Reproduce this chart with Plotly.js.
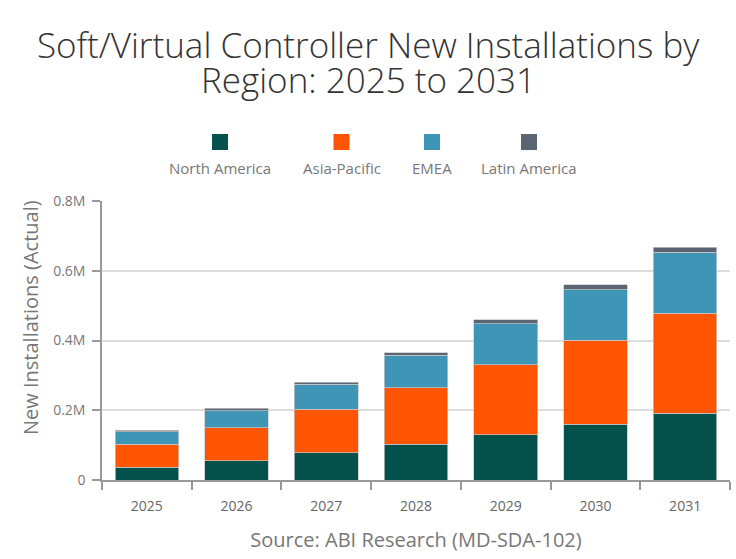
<!DOCTYPE html>
<html>
<head>
<meta charset="utf-8">
<script src="https://cdn.plot.ly/plotly-3.0.1.min.js"></script>
<style>
  html, body { margin: 0; padding: 0; background: #ffffff; }
  #chart { width: 736px; height: 559px; }
</style>
</head>
<body>
<div id="chart"></div>
<script>
// Annual new installations by region (units)
const years = ['2025', '2026', '2027', '2028', '2029', '2030', '2031'];
const northAmerica = [36000, 55000, 78000, 102000, 130000, 160000, 191000];
const asiaPacific  = [66000, 95000, 125000, 163000, 201000, 241000, 287000];
const emea         = [37000, 49000, 71000, 93000, 117000, 144000, 175000];
const latinAmerica = [3000, 7000, 6500, 7000, 11000, 15000, 15000];

const seriesNames  = ['North America', 'Asia-Pacific', 'EMEA', 'Latin America'];
const seriesColors = ['#04504b', '#fe5502', '#3f95b5', '#5a6472'];
const seriesValues = [northAmerica, asiaPacific, emea, latinAmerica];

const yTickValues = [0, 200000, 400000, 600000, 800000];
const yTickLabels = ['0', '0.2M', '0.4M', '0.6M', '0.8M'];

const titleLines = ['Soft/Virtual Controller New Installations by', 'Region: 2025 to 2031'];
const yTitle = 'New Installations (Actual)';
const xTitle = 'Source: ABI Research (MD-SDA-102)';

// plot area in pixels, used to place paper-referenced decorations
const M = { l: 102, r: 6, t: 201, b: 79 };
const W = 736, H = 559;
const PW = W - M.l - M.r, PH = H - M.t - M.b;
const px = x => (x - M.l) / PW;
const py = y => (H - M.b - y) / PH;

const traces = seriesValues.map((vals, i) => ({
  type: 'bar',
  name: seriesNames[i],
  x: years,
  y: vals,
  marker: {
    color: seriesColors[i],
    line: { color: 'rgba(200,200,200,0.9)', width: 0.8 }
  },
  showlegend: false,
  hovertemplate: '%{x}: %{y:,}<extra>' + seriesNames[i] + '</extra>'
}));

const shapes = [];
const annotations = [];

// title, two centred lines
titleLines.forEach((line, i) => {
  annotations.push({
    xref: 'paper', yref: 'paper',
    x: px(W / 2), y: py(61 + i * 34.5),
    xanchor: 'center', yanchor: 'bottom', yshift: -9,
    showarrow: false, text: line,
    font: { family: 'Open Sans, Noto Sans, sans-serif', size: 35, color: '#333333', weight: 300 }
  });
});

// rotated y-axis title
annotations.push({
  xref: 'paper', yref: 'paper',
  x: px(30), y: py(318),
  xanchor: 'center', yanchor: 'middle', textangle: -90,
  showarrow: false, text: yTitle,
  font: { family: 'Open Sans, Noto Sans, sans-serif', size: 20, color: '#777777' }
});

// legend: squares above centred labels
const legendX = [220, 341.5, 432, 529];
seriesNames.forEach((name, i) => {
  shapes.push({
    type: 'rect', xref: 'paper', yref: 'paper', layer: 'above',
    x0: px(legendX[i] - 8), x1: px(legendX[i] + 8),
    y0: py(150), y1: py(134),
    fillcolor: seriesColors[i], line: { width: 0 }
  });
  annotations.push({
    xref: 'paper', yref: 'paper',
    x: px(legendX[i]), y: py(167.5),
    xanchor: 'center', yanchor: 'middle', showarrow: false,
    text: name,
    font: { family: 'Open Sans, Noto Sans, sans-serif', size: 15, color: '#777777' }
  });
});

const layout = {
  width: W,
  height: H,
  margin: M,
  paper_bgcolor: '#ffffff',
  plot_bgcolor: '#ffffff',
  barmode: 'stack',
  bargap: 0.29,
  font: { family: 'Open Sans, Noto Sans, sans-serif', color: '#666666' },
  xaxis: {
    type: 'category',
    showgrid: false,
    showline: true, linecolor: '#999999', linewidth: 1.5,
    ticks: 'outside', tickson: 'boundaries', ticklen: 8, tickcolor: '#999999', tickwidth: 1.5,
    ticklabelstandoff: 12,
    tickfont: { size: 14, color: '#666666' },
    title: {
      text: xTitle,
      font: { size: 20, color: '#777777' },
      standoff: 19
    }
  },
  yaxis: {
    range: [0, 800000],
    tickvals: yTickValues,
    ticktext: yTickLabels,
    showgrid: true, gridcolor: '#dddddd', gridwidth: 1.5,
    showline: true, linecolor: '#999999', linewidth: 1.5,
    ticks: 'outside', ticklen: 8, tickcolor: '#999999', tickwidth: 1.5,
    ticklabelstandoff: 4,
    tickfont: { size: 14, color: '#777777' },
    zeroline: false
  },
  shapes: shapes,
  annotations: annotations
};

Plotly.newPlot('chart', traces, layout, { displayModeBar: false, responsive: false });
</script>
</body>
</html>
